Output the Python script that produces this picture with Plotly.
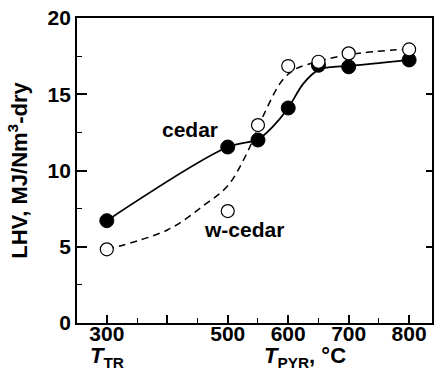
import plotly.graph_objects as go

# measured data
temps = [300, 500, 550, 600, 650, 700, 800]
cedar = [6.71, 11.54, 12.0, 14.1, 16.9, 16.8, 17.25]
wcedar = [4.83, 7.34, 12.98, 16.85, 17.13, 17.68, 17.94]

# fitted (guide) curves
cedar_fit_x = [300, 500, 550, 575, 600, 625, 650, 675, 700, 800]
cedar_fit_y = [6.71, 11.54, 12.05, 12.9, 14.1, 15.7, 16.6, 16.8, 16.85, 17.25]
wcedar_fit_x = [300, 400, 460, 500, 530, 560, 590, 612, 650, 700, 800]
wcedar_fit_y = [4.83, 6.1, 7.7, 9.0, 11.0, 13.7, 15.9, 16.65, 17.15, 17.6, 17.97]

xtick_vals = [300, 400, 500, 600, 700, 800]
xtick_text = ["300", "", "500", "600", "700", "800"]
ytick_vals = [0, 5, 10, 15, 20]

FONT = "Liberation Sans"

fig = go.Figure()
fig.add_trace(go.Scatter(x=wcedar_fit_x, y=wcedar_fit_y, mode="lines",
                         line=dict(color="black", width=1.5, dash="7px,5px", shape="spline", smoothing=1),
                         hoverinfo="skip", showlegend=False))
fig.add_trace(go.Scatter(x=cedar_fit_x, y=cedar_fit_y, mode="lines",
                         line=dict(color="black", width=1.8, shape="spline", smoothing=1),
                         hoverinfo="skip", showlegend=False))
fig.add_trace(go.Scatter(x=temps, y=cedar, mode="markers",
                         marker=dict(symbol="circle", size=14, color="black",
                                     line=dict(color="black", width=1)),
                         showlegend=False))
fig.add_trace(go.Scatter(x=temps, y=wcedar, mode="markers",
                         marker=dict(symbol="circle", size=13, color="white",
                                     line=dict(color="black", width=1.2)),
                         showlegend=False))
# invisible trace for right axis
fig.add_trace(go.Scatter(x=[300], y=[0], yaxis="y2", mode="markers",
                         marker=dict(opacity=0), hoverinfo="skip", showlegend=False))

fig.update_layout(
    width=436, height=384,
    margin=dict(l=77, r=2, t=18, b=61),
    plot_bgcolor="white", paper_bgcolor="white",
    font=dict(family=FONT, size=21, color="black"),
    xaxis=dict(range=[250.7, 837.8], tickvals=xtick_vals, ticktext=xtick_text,
               ticks="inside", ticklen=8, tickwidth=1.5, tickcolor="black",
               ticklabelstandoff=-9,
               minor=dict(dtick=50, tick0=250, ticks="inside", ticklen=5, tickwidth=1.2, tickcolor="black"),
               showline=True, linecolor="black", linewidth=1.8, mirror=True,
               showgrid=False, zeroline=False,
               tickfont=dict(family=FONT, size=21, color="black", weight="bold")),
    yaxis=dict(range=[0, 20], tickvals=ytick_vals,
               ticks="inside", ticklen=10, tickwidth=1.5, tickcolor="black",
               minor=dict(dtick=2.5, tick0=0, ticks="inside", ticklen=5, tickwidth=1.2, tickcolor="black"),
               showline=True, linecolor="black", linewidth=1.8, mirror=True,
               showgrid=False, zeroline=False,
               tickfont=dict(family=FONT, size=21, color="black", weight="bold"),
               title=dict(text="<b>LHV, MJ/Nm<sup>3</sup>-dry</b>", standoff=14,
                          font=dict(family=FONT, size=22, color="black"))),
    yaxis2=dict(range=[0, 20], overlaying="y", side="right", tickvals=ytick_vals,
                ticks="inside", ticklen=6, tickwidth=1.5, tickcolor="black",
                showticklabels=False, showline=False, showgrid=False, zeroline=False),
    annotations=[
        dict(x=438, y=12.66, xref="x", yref="y", text="<b>cedar</b>", showarrow=False,
             font=dict(family=FONT, size=21, color="black")),
        dict(x=527, y=6.1, xref="x", yref="y", text="<b>w-cedar</b>", showarrow=False,
             font=dict(family=FONT, size=21, color="black")),
        dict(x=300, y=-0.11, xref="x", yref="paper", yanchor="middle",
             text="<b><i>T</i><sub>TR</sub></b>", showarrow=False,
             font=dict(family=FONT, size=22, color="black")),
        dict(x=628, y=-0.11, xref="x", yref="paper", yanchor="middle",
             text="<b><i>T</i><sub>PYR</sub>, °C</b>", showarrow=False,
             font=dict(family=FONT, size=22, color="black")),
    ],
)

fig.write_html("out.html")
